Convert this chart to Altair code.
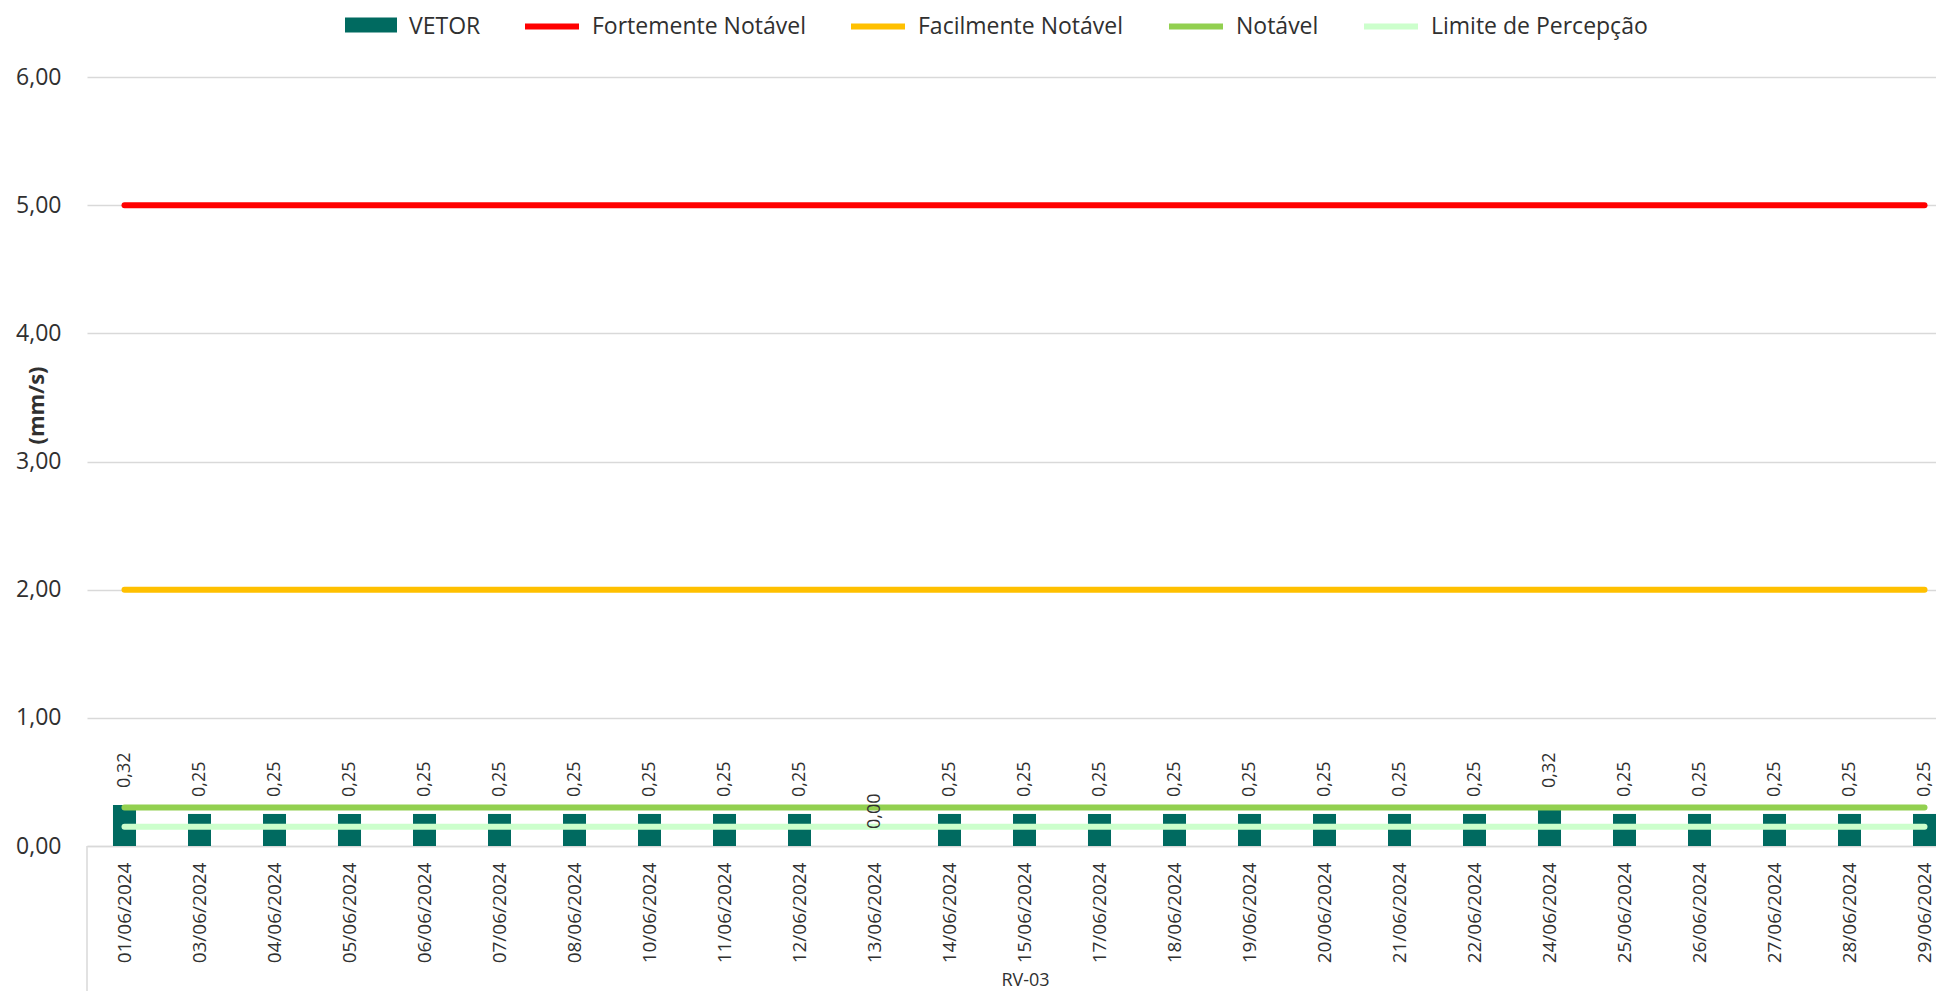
import altair as alt
import pandas as pd

# ---- data ----
datas = ["01/06/2024", "03/06/2024", "04/06/2024", "05/06/2024", "06/06/2024",
         "07/06/2024", "08/06/2024", "10/06/2024", "11/06/2024", "12/06/2024",
         "13/06/2024", "14/06/2024", "15/06/2024", "17/06/2024", "18/06/2024",
         "19/06/2024", "20/06/2024", "21/06/2024", "22/06/2024", "24/06/2024",
         "25/06/2024", "26/06/2024", "27/06/2024", "28/06/2024", "29/06/2024"]
vetor = [0.32, 0.25, 0.25, 0.25, 0.25, 0.25, 0.25, 0.25, 0.25, 0.25,
         0.00, 0.25, 0.25, 0.25, 0.25, 0.25, 0.25, 0.25, 0.25, 0.32,
         0.25, 0.25, 0.25, 0.25, 0.25]
serie_nomes = ["Fortemente Notável", "Facilmente Notável", "Notável", "Limite de Percepção"]
serie_niveis = [5.00, 2.00, 0.30, 0.15]
serie_cores = ["#FF0000", "#FFC000", "#92D050", "#CCFFCC"]
cor_barra = "#006A60"
y_ticks = [0, 1, 2, 3, 4, 5, 6]

bars_df = pd.DataFrame({"data": datas, "valor": vetor, "serie": ["VETOR"] * len(datas)})
bars_df["rotulo"] = [f"{v:.2f}".replace(".", ",") for v in vetor]
lines_df = pd.DataFrame([
    {"data": d, "valor": lvl, "serie": s}
    for s, lvl in zip(serie_nomes, serie_niveis) for d in datas
])

FONT = "Open Sans"
TXT = "#303030"
W, H = 1849, 769

x_enc = alt.X(
    "data:N", sort=datas, title="RV-03",
    scale=alt.Scale(range=[0, 1875], paddingInner=0.693, paddingOuter=0.3465),
    axis=alt.Axis(labelAngle=270, labelPadding=16, ticks=False,
                  labelFont=FONT, labelFontSize=19, labelColor=TXT,
                  domainColor="#D9D9D9", domainWidth=1.5,
                  titleFont=FONT, titleFontSize=18, titleFontWeight="normal",
                  titleColor=TXT, titleX=938, titleY=139,
                  titleBaseline="alphabetic", titleAnchor="start", titleAlign="center"),
)
y_scale = alt.Scale(domain=[0, 6], nice=False)
y_enc = alt.Y(
    "valor:Q", scale=y_scale, title="(mm/s)",
    axis=alt.Axis(values=y_ticks, domain=False, ticks=False,
                  gridColor="#D9D9D9", gridWidth=1.3,
                  labelExpr="replace(format(datum.value, '.2f'), '.', ',')",
                  labelFont=FONT, labelFontSize=23, labelColor=TXT, labelPadding=26,
                  titleFont=FONT, titleFontSize=22, titleFontWeight="bold",
                  titleColor=TXT, titleAngle=270, titleX=-51, titleY=328,
                  titleAlign="center", titleBaseline="middle"),
)

bars = alt.Chart(bars_df).mark_bar().encode(
    x=x_enc,
    y=y_enc,
    fill=alt.Fill("serie:N", scale=alt.Scale(domain=["VETOR"], range=[cor_barra]),
                  legend=alt.Legend(title=None, orient="none", legendX=258, legendY=-76.5,
                                    direction="horizontal", padding=0,
                                    symbolType="M-1,-0.346L1,-0.346L1,0.23L-1,0.23Z",
                                    symbolSize=2704, symbolStrokeWidth=0,
                                    labelFont=FONT, labelFontSize=23, labelColor=TXT,
                                    labelOffset=12, labelLimit=400)),
)

labels = alt.Chart(bars_df).mark_text(
    angle=270, align="left", baseline="middle", dx=17,
    font=FONT, fontSize=18, color=TXT,
).encode(x=alt.X("data:N", sort=datas), y=alt.Y("valor:Q", scale=y_scale), text="rotulo:N")

lines = alt.Chart(lines_df).mark_line(strokeWidth=6, strokeCap="round").encode(
    x=alt.X("data:N", sort=datas),
    y=alt.Y("valor:Q", scale=y_scale),
    stroke=alt.Stroke("serie:N", sort=serie_nomes,
                      scale=alt.Scale(domain=serie_nomes, range=serie_cores),
                      legend=alt.Legend(title=None, orient="none", legendX=435, legendY=-80.5,
                                        direction="horizontal", padding=0,
                                        symbolType="stroke", symbolSize=2916,
                                        symbolStrokeWidth=6, columnPadding=33,
                                        labelFont=FONT, labelFontSize=23, labelColor=TXT,
                                        labelOffset=10, labelLimit=400)),
    detail="serie:N",
)

divisor = alt.Chart(pd.DataFrame({"a": [0]})).mark_rule(color="#D9D9D9", strokeWidth=1.5).encode(
    x=alt.value(0), y=alt.value(H), y2=alt.value(H + 145)
)

chart = alt.layer(bars, lines, labels, divisor).resolve_scale(
    fill="independent", stroke="independent"
).properties(
    width=W, height=H,
    padding={"left": 79, "top": 69, "right": 0, "bottom": 145},
    autosize=alt.AutoSizeParams(type="none"),
).configure_view(stroke=None)

chart.save("out.html", embed_options={"renderer": "svg", "actions": False})
